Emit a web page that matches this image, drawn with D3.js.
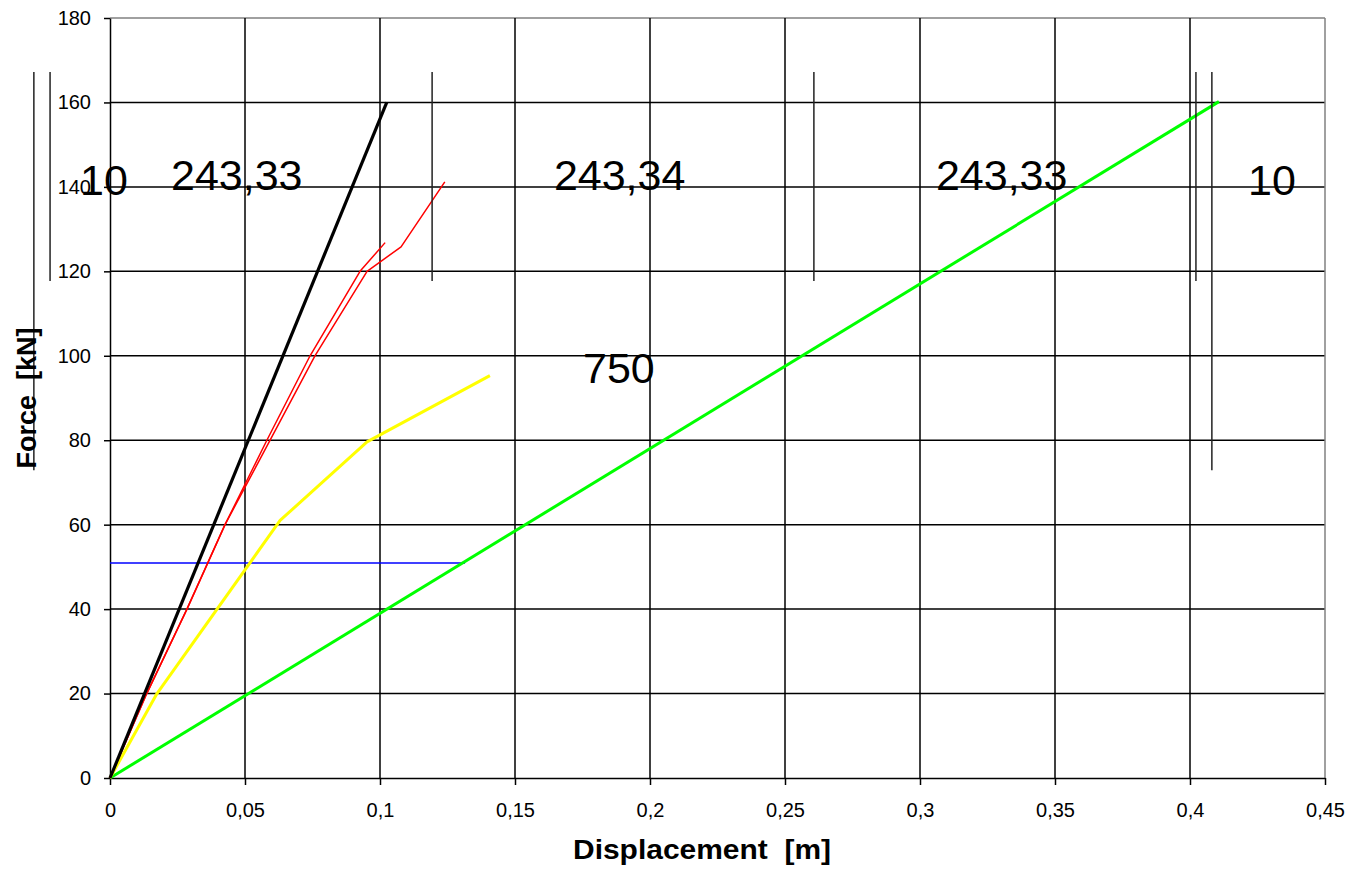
<!DOCTYPE html>
<html>
<head>
<meta charset="utf-8">
<script src="https://d3js.org/d3.v7.min.js"></script>
<style>
    body { margin: 0; background-color: white; }
    svg text { font-family: 'Liberation Sans', Arial, sans-serif; }
</style>
</head>
<body>
<svg id="chart" width="1350" height="869"></svg>
<script>
    // data (displacement m, force kN)
    var blackLine = [[0, 0], [0.1025, 160]];
    var red1 = [[0, 0], [0.0136, 20], [0.0285, 40], [0.0426, 60], [0.0581, 80], [0.0741, 100], [0.0926, 120], [0.1019, 126.8]];
    var red2 = [[0, 0], [0.0136, 20], [0.0285, 40], [0.0426, 60], [0.0593, 80], [0.0759, 100], [0.0952, 120], [0.1078, 125.8], [0.124, 141.2]];
    var yellowLine = [[0, 0], [0.0174, 20], [0.063, 61], [0.0952, 79.6], [0.1407, 95.3]];
    var greenLine = [[0, 0], [0.4107, 160.2]];
    var blueLine = [[0, 50.9], [0.1315, 50.9]];

    var xTicks = [0, 0.05, 0.1, 0.15, 0.2, 0.25, 0.3, 0.35, 0.4, 0.45];
    var yTicks = [0, 20, 40, 60, 80, 100, 120, 140, 160, 180];

    // beam sketch drawn over the chart: dimension marks and labels
    var markX = [-0.0282, -0.0222, 0.1193, 0.2607, 0.4022, 0.4081];
    var markTop = [167.2, 167.2, 167.2, 167.2, 167.2, 167.2];
    var markBottom = [72.9, 117.7, 117.7, 117.7, 117.7, 72.9];
    var labelText = ['10', '243,33', '243,34', '243,33', '10', '750'];
    var labelX = [-0.0111, 0.0226, 0.1644, 0.3059, 0.4215, 0.1752];
    var labelY = [138.1, 139.3, 139.3, 139.3, 138.1, 93.5];

    var svg = d3.select('#chart');
    var x = d3.scaleLinear().domain([0, 0.45]).range([110, 1325]);
    var y = d3.scaleLinear().domain([0, 180]).range([778, 18]);
    var fmt = function (d) { return String(d).replace('.', ','); };

    svg.append('rect').attr('width', 1350).attr('height', 869).attr('fill', 'white');

    // grid
    svg.append('g').selectAll('line')
        .data(yTicks.slice(1))
        .join('line')
        .attr('x1', x(0)).attr('x2', x(0.45))
        .attr('y1', d => y(d)).attr('y2', d => y(d))
        .attr('stroke', d => d === 180 ? '#808080' : 'black')
        .attr('stroke-width', 1.5);

    svg.append('g').selectAll('line')
        .data(xTicks.slice(1))
        .join('line')
        .attr('y1', y(0)).attr('y2', y(180))
        .attr('x1', d => x(d)).attr('x2', d => x(d))
        .attr('stroke', d => d === 0.45 ? '#808080' : 'black')
        .attr('stroke-width', 1.5);

    // axes
    var yAxis = d3.axisLeft(y).tickValues(yTicks).tickSize(6).tickSizeOuter(0).tickPadding(13).tickFormat(fmt);
    var xAxis = d3.axisBottom(x).tickValues(xTicks).tickSize(7).tickSizeOuter(0).tickPadding(18).tickFormat(fmt);

    var gy = svg.append('g').attr('transform', 'translate(' + x(0) + ',0)').call(yAxis);
    var gx = svg.append('g').attr('transform', 'translate(0,' + y(0) + ')').call(xAxis);
    [gx, gy].forEach(function (g) {
        g.attr('font-size', 20).attr('font-family', "'Liberation Sans', Arial, sans-serif");
        g.selectAll('path, line').attr('stroke', 'black').attr('stroke-width', 1.5);
        g.selectAll('text').attr('fill', 'black');
    });

    // series
    var line = d3.line().x(d => x(d[0])).y(d => y(d[1]));
    var series = [
        { data: blueLine, color: '#0000ff', width: 1.5 },
        { data: greenLine, color: '#00ff00', width: 3 },
        { data: yellowLine, color: '#ffff00', width: 3 },
        { data: red1, color: '#ff0000', width: 1.5 },
        { data: red2, color: '#ff0000', width: 1.5 },
        { data: blackLine, color: 'black', width: 3.2 }
    ];
    svg.append('g').selectAll('path')
        .data(series)
        .join('path')
        .attr('d', d => line(d.data))
        .attr('fill', 'none')
        .attr('stroke', d => d.color)
        .attr('stroke-width', d => d.width)
        .attr('stroke-linejoin', 'round');

    // beam sketch
    svg.append('g').selectAll('line')
        .data(markX)
        .join('line')
        .attr('x1', d => x(d)).attr('x2', d => x(d))
        .attr('y1', (d, i) => y(markTop[i])).attr('y2', (d, i) => y(markBottom[i]))
        .attr('stroke', '#222')
        .attr('stroke-width', 1.5);

    svg.append('g').selectAll('text')
        .data(labelText)
        .join('text')
        .attr('x', (d, i) => x(labelX[i]))
        .attr('y', (d, i) => y(labelY[i]))
        .attr('font-size', 43)
        .attr('fill', 'black')
        .text(d => d);

    // axis titles
    svg.append('text')
        .attr('x', 702).attr('y', 859)
        .attr('text-anchor', 'middle')
        .attr('font-size', 27).attr('font-weight', 'bold')
        .attr('textLength', 258).attr('lengthAdjust', 'spacingAndGlyphs')
        .style('white-space', 'pre')
        .text('Displacement  [m]');

    svg.append('text')
        .attr('transform', 'translate(36,398) rotate(-90)')
        .attr('text-anchor', 'middle')
        .attr('font-size', 27).attr('font-weight', 'bold')
        .style('white-space', 'pre')
        .text('Force  [kN]');
</script>
</body>
</html>
